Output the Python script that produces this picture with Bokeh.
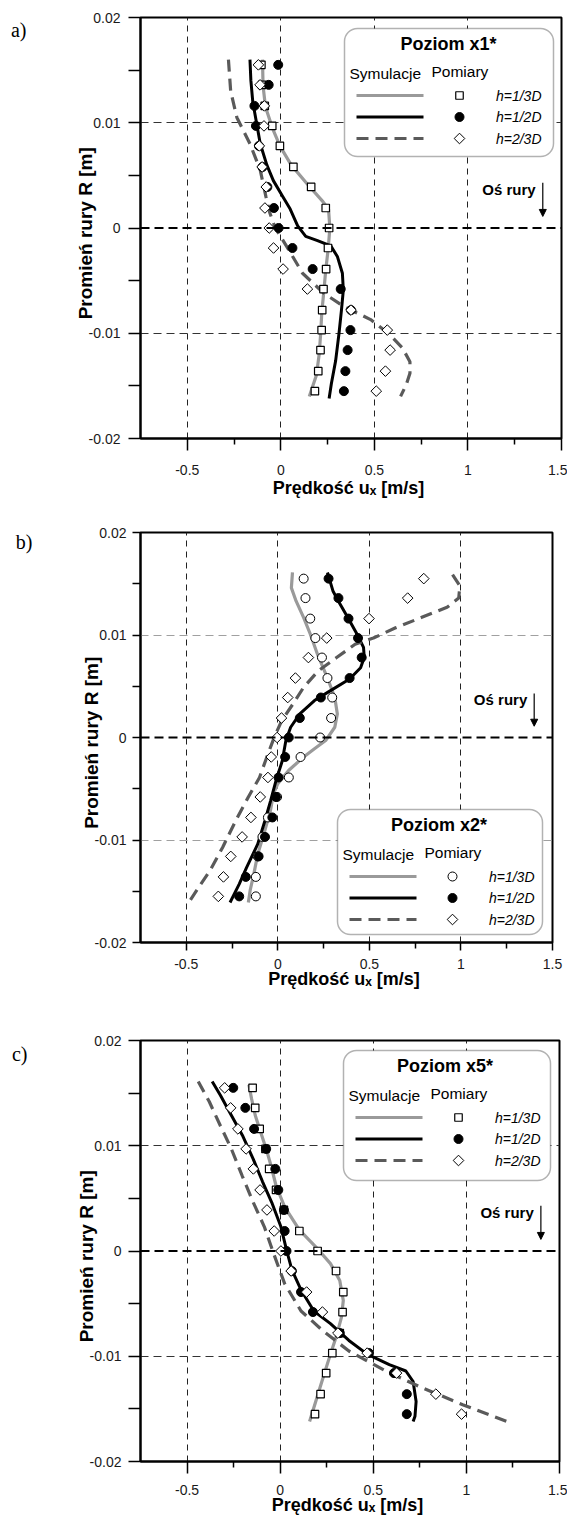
import math
from bokeh.plotting import figure
from bokeh.layouts import column
from bokeh.models import (Range1d, FixedTicker, CustomJSTickFormatter, Span, Label,
                          BoxAnnotation, Arrow, NormalHead, LinearAxis)
from bokeh.embed import file_html
from bokeh.resources import INLINE

# ---------------- data ----------------
x_limits = [-0.75, 1.5]
y_limits = [-0.02, 0.02]
x_ticks = [-0.5, 0, 0.5, 1, 1.5]
x_tick_labels = ["-0.5", "0", "0.5", "1", "1.5"]
x_minor_ticks = [-0.25, 0.25, 0.75, 1.25]
y_ticks = [-0.02, -0.01, 0, 0.01, 0.02]
y_tick_labels = ["-0.02", "-0.01", "0", "0.01", "0.02"]
y_minor_ticks = [-0.015, -0.005, 0.005, 0.015]

x_title = "Prędkość uₓ  [m/s]"
y_title = "Promień rury  R  [m]"
series_names = ["h=1/3D", "h=1/2D", "h=2/3D"]
panel_letters = ["a)", "b)", "c)"]
panel_titles = ["Poziom x1*", "Poziom  x2*", "Poziom  x5*"]

# radial positions of the measurement points [m]
R_meas = [0.0155, 0.0136, 0.0116, 0.0097, 0.0078, 0.0058, 0.0039, 0.0019, 0.0,
          -0.0019, -0.0039, -0.0058, -0.0078, -0.0097, -0.0116, -0.0136, -0.0155]

# ---- panel a (x1*) ----
a_meas_13 = [-0.104, -0.1, -0.086, -0.046, -0.005, 0.067, 0.162, 0.24, 0.258,
             0.252, 0.242, 0.228, 0.221, 0.218, 0.212, 0.2, 0.182]
a_meas_12 = [-0.014, -0.065, -0.141, -0.133, -0.117, -0.098, -0.072, -0.037, -0.012,
             0.062, 0.17, 0.32, 0.375, 0.372, 0.357, 0.345, 0.337]
a_meas_23 = [-0.12, -0.111, -0.088, -0.09, -0.115, -0.1, -0.078, -0.085, -0.062,
             -0.039, 0.012, 0.142, 0.375, 0.569, 0.584, 0.559, 0.51]
a_sim13_R = [0.016, 0.0135, 0.0115, 0.0095, 0.0078, 0.006, 0.0042, 0.0025, 0.0018, 0.0,
             -0.002, -0.004, -0.006, -0.008, -0.010, -0.012, -0.014, -0.016]
a_sim13_u = [-0.098, -0.095, -0.082, -0.045, -0.005, 0.055, 0.14, 0.225, 0.255, 0.262,
             0.253, 0.24, 0.23, 0.219, 0.213, 0.205, 0.19, 0.152]
a_sim12_R = [0.016, 0.014, 0.012, 0.010, 0.008, 0.006, 0.0045, 0.003, 0.0018, 0.0008, 0.0002,
             -0.0008, -0.0012, -0.0017, -0.0027, -0.0043, -0.0059, -0.0078, -0.010, -0.0126,
             -0.0148, -0.0162]
a_sim12_u = [-0.165, -0.16, -0.15, -0.13, -0.11, -0.075, -0.04, 0.01, 0.05, 0.075, 0.09,
             0.133, 0.196, 0.267, 0.302, 0.329, 0.334, 0.324, 0.311, 0.293, 0.27, 0.258]
a_sim23_R = [0.016, 0.013, 0.0105, 0.008, 0.0055, 0.003, 0.0015, 0.0, -0.002, -0.0043,
             -0.0062, -0.0075, -0.0087, -0.0101, -0.0114, -0.0127, -0.0138, -0.0149, -0.016]
a_sim23_u = [-0.28, -0.268, -0.235, -0.165, -0.11, -0.08, -0.06, -0.03, 0.04, 0.116,
             0.23, 0.34, 0.48, 0.58, 0.65, 0.69, 0.69, 0.67, 0.64]

# ---- panel b (x2*) ----
b_meas_13 = [0.141, 0.151, 0.177, 0.205, 0.241, 0.271, 0.297, 0.291, 0.231,
             0.124, 0.06, -0.004, -0.054, -0.084, -0.11, -0.12, -0.12]
b_meas_12 = [0.277, 0.331, 0.386, 0.438, 0.458, 0.392, 0.235, 0.12, 0.06,
             0.04, 0.004, -0.01, -0.03, -0.07, -0.105, -0.175, -0.211]
b_meas_23 = [0.797, 0.709, 0.498, 0.267, 0.167, 0.096, 0.054, 0.02, -0.004,
             -0.036, -0.054, -0.096, -0.147, -0.195, -0.257, -0.297, -0.325]
b_sim13_R = [0.0161, 0.0146, 0.0133, 0.0117, 0.0101, 0.0081, 0.0058, 0.0039, 0.0023, 0.001,
             -0.0003, -0.0011, -0.0019, -0.0032, -0.0045, -0.0055, -0.0071, -0.0094, -0.0114,
             -0.0133, -0.0149, -0.0161]
b_sim13_u = [0.08, 0.074, 0.1, 0.141, 0.177, 0.217, 0.271, 0.311, 0.325, 0.311,
             0.261, 0.2, 0.141, 0.06, 0.0, -0.024, -0.04, -0.076, -0.11, -0.131, -0.151, -0.161]
b_sim12_R = [0.0161, 0.0143, 0.0133, 0.0117, 0.0101, 0.0088, 0.0078, 0.0068, 0.0057, 0.0045,
             0.0036, 0.0023, 0.001, -0.0003, -0.0023, -0.0042, -0.0062, -0.0081, -0.0104,
             -0.0127, -0.0143, -0.0161]
b_sim12_u = [0.271, 0.301, 0.331, 0.382, 0.432, 0.468, 0.472, 0.452, 0.392, 0.281,
             0.2, 0.12, 0.07, 0.044, 0.024, -0.01, -0.04, -0.07, -0.11, -0.171, -0.211, -0.261]
b_sim23_R = [0.0159, 0.0148, 0.0136, 0.0127, 0.0117, 0.0107, 0.0097, 0.0091, 0.0078, 0.0065,
             0.0049, 0.0032, 0.0016, 0.0, -0.0019, -0.0039, -0.0058, -0.0078, -0.0107, -0.013,
             -0.0146, -0.0161]
b_sim23_u = [0.954, 0.994, 0.988, 0.924, 0.783, 0.643, 0.522, 0.422, 0.321, 0.221,
             0.141, 0.08, 0.02, -0.02, -0.06, -0.1, -0.161, -0.221, -0.301, -0.371, -0.432, -0.486]

# ---- panel c (x5*) ----
c_meas_13 = [-0.148, -0.134, -0.11, -0.079, -0.059, -0.022, 0.02, 0.103, 0.201,
             0.3, 0.339, 0.335, 0.32, 0.28, 0.247, 0.217, 0.187]
c_meas_12 = [-0.252, -0.187, -0.14, -0.075, -0.026, -0.01, 0.02, 0.024, 0.034,
             0.063, 0.112, 0.176, 0.32, 0.477, 0.611, 0.68, 0.68]
c_meas_23 = [-0.298, -0.266, -0.227, -0.183, -0.144, -0.108, -0.071, -0.032, 0.004,
             0.059, 0.142, 0.227, 0.31, 0.467, 0.625, 0.836, 0.974]
c_sim13_R = [0.0158, 0.0145, 0.0129, 0.0113, 0.0097, 0.0081, 0.0062, 0.0042, 0.002, 0.0004,
             -0.0012, -0.0028, -0.0047, -0.0063, -0.0082, -0.0098, -0.012, -0.0143, -0.0162]
c_sim13_u = [-0.168, -0.154, -0.134, -0.105, -0.075, -0.049, -0.022, 0.024, 0.103, 0.191,
             0.27, 0.32, 0.339, 0.329, 0.3, 0.27, 0.231, 0.191, 0.158]
c_sim12_R = [0.0161, 0.0148, 0.0132, 0.011, 0.0087, 0.0066, 0.0046, 0.0023, 0.0001, -0.0018,
             -0.0037, -0.0057, -0.0069, -0.0085, -0.0098, -0.0108, -0.0114, -0.0124, -0.0143,
             -0.0157, -0.0162]
c_sim12_u = [-0.365, -0.321, -0.272, -0.203, -0.144, -0.095, -0.045, 0.004, 0.034, 0.063,
             0.112, 0.181, 0.27, 0.369, 0.467, 0.586, 0.675, 0.714, 0.73, 0.724, 0.714]
c_sim23_R = [0.0161, 0.0142, 0.0119, 0.0097, 0.0071, 0.0046, 0.0023, -0.0002, -0.0031,
             -0.0057, -0.0076, -0.0095, -0.0114, -0.013, -0.0146, -0.0162]
c_sim23_u = [-0.44, -0.381, -0.321, -0.262, -0.203, -0.144, -0.085, -0.036, 0.024,
             0.112, 0.231, 0.369, 0.566, 0.763, 0.98, 1.217]

# ---------------- styling / layout ----------------
FONT = "Liberation Sans"
SERIF = "Liberation Serif"
GRAY = "#9a9a9a"
DASHC = "#5a5a5a"

panels = [
    dict(letter=panel_letters[0], title=panel_titles[0], open_marker="square",
         meas=(a_meas_13, a_meas_12, a_meas_23),
         sims=((a_sim13_u, a_sim13_R), (a_sim12_u, a_sim12_R), (a_sim23_u, a_sim23_R)),
         fw=421, fh=421, L=138, R=8, T=17, B=66,
         tick_out=12, x_standoff=14, y_standoff=8, xl_standoff=0, hgrid="#333333",
         box=(204, 11, 209, 128), letter_dy=12),
    dict(letter=panel_letters[1], title=panel_titles[1], open_marker="circle",
         meas=(b_meas_13, b_meas_12, b_meas_23),
         sims=((b_sim13_u, b_sim13_R), (b_sim12_u, b_sim12_R), (b_sim23_u, b_sim23_R)),
         fw=412, fh=410, L=140, R=15, T=28, B=60,
         tick_out=8, x_standoff=8, y_standoff=6, xl_standoff=-3, hgrid="#a0a0a0",
         box=(197, 277, 205, 125), letter_dy=9),
    dict(letter=panel_letters[2], title=panel_titles[2], open_marker="square",
         meas=(c_meas_13, c_meas_12, c_meas_23),
         sims=((c_sim13_u, c_sim13_R), (c_sim12_u, c_sim12_R), (c_sim23_u, c_sim23_R)),
         fw=419, fh=421, L=140, R=8, T=38, B=58,
         tick_out=12, x_standoff=11, y_standoff=7, xl_standoff=-3, hgrid="#333333",
         box=(203, 10, 207, 130), letter_dy=13),
]

line_styles = [
    dict(line_color=GRAY, line_width=3.2),
    dict(line_color="black", line_width=3.0),
    dict(line_color=DASHC, line_width=3.2, line_dash="12 7"),
]


def marker_styles(open_marker):
    first = (dict(marker="square", size=7.5, fill_color="white", line_color="black",
                  line_width=1.2)
             if open_marker == "square" else
             dict(marker="circle", size=9, fill_color="white", line_color="black",
                  line_width=1))
    return [
        first,
        dict(marker="circle", size=9, fill_color="black", line_color="black", line_width=1),
        dict(marker="square", angle=math.pi / 4, size=7.5, fill_color="white",
             line_color="black", line_width=1),
    ]


def fmt(tick_values, tick_texts):
    return CustomJSTickFormatter(args=dict(tv=tick_values, tl=tick_texts), code="""
        for (let i = 0; i < tv.length; i++) {
            if (Math.abs(tv[i] - tick) < 1e-9) { return tl[i]; }
        }
        return "";
    """)


def make_panel(cfg):
    X0, X1 = x_limits
    Y0, Y1 = y_limits
    fw, fh = cfg["fw"], cfg["fh"]
    p = figure(title=None, frame_width=fw, frame_height=fh,
               min_border_left=cfg["L"], min_border_right=cfg["R"],
               min_border_top=cfg["T"], min_border_bottom=cfg["B"],
               x_range=Range1d(X0, X1), y_range=Range1d(Y0, Y1),
               output_backend="svg", toolbar_location=None,
               background_fill_color="white", border_fill_color="white")
    p.outline_line_color = "black"
    p.outline_line_width = 2

    def d(dx, dy):
        return X0 + dx / fw * (X1 - X0), Y1 - dy / fh * (Y1 - Y0)

    # axes
    p.xaxis.ticker = FixedTicker(ticks=x_ticks, minor_ticks=x_minor_ticks)
    p.yaxis.ticker = FixedTicker(ticks=y_ticks, minor_ticks=y_minor_ticks)
    p.xaxis.formatter = fmt(x_ticks, x_tick_labels)
    p.yaxis.formatter = fmt(y_ticks, y_tick_labels)
    for ax in (p.xaxis[0], p.yaxis[0]):
        ax.axis_line_width = 2
        ax.axis_line_color = "black"
        ax.major_tick_line_color = "black"
        ax.minor_tick_line_color = "black"
        ax.major_tick_line_width = 1.5
        ax.minor_tick_line_width = 1.5
        ax.major_tick_in = 0
        ax.minor_tick_in = 0
        ax.major_tick_out = cfg["tick_out"]
        ax.major_label_text_font = FONT
        ax.major_label_text_font_size = "14px"
        ax.major_label_text_color = "#1a1a1a"
        ax.axis_label_text_font = FONT
        ax.axis_label_text_font_style = "bold"
        ax.axis_label_text_color = "black"
    p.xaxis[0].minor_tick_out = 6
    p.yaxis[0].minor_tick_out = cfg["tick_out"]
    p.xaxis[0].major_label_standoff = cfg["x_standoff"]
    p.yaxis[0].major_label_standoff = cfg["y_standoff"]
    p.xaxis[0].axis_label = x_title
    p.xaxis[0].axis_label_text_font_size = "18px"
    p.xaxis[0].axis_label_standoff = cfg["xl_standoff"]
    p.yaxis[0].axis_label = y_title
    p.yaxis[0].axis_label_text_font_size = "19px"
    p.yaxis[0].axis_label_standoff = -10

    # panel letter carried by an extra, bare axis on the left
    yl = Y1 - cfg["letter_dy"] / fh * (Y1 - Y0)
    lax = LinearAxis(ticker=FixedTicker(ticks=[yl]), formatter=fmt([yl], [cfg["letter"]]),
                     axis_line_color=None, major_tick_line_color=None,
                     minor_tick_line_color=None, major_tick_out=0, major_tick_in=0,
                     major_label_standoff=45, major_label_text_font=SERIF,
                     major_label_text_font_size="20px", major_label_text_color="black")
    p.add_layout(lax, "left")

    # grid
    p.xgrid.ticker = FixedTicker(ticks=[t for t in x_ticks if X0 < t < X1])
    p.xgrid.grid_line_color = "#222222"
    p.xgrid.grid_line_width = 1
    p.xgrid.grid_line_dash = "6 5"
    p.ygrid.ticker = FixedTicker(ticks=[t for t in y_ticks if Y0 < t < Y1 and t != 0])
    p.ygrid.grid_line_color = cfg["hgrid"]
    p.ygrid.grid_line_width = 1
    p.ygrid.grid_line_dash = "8 5"
    p.add_layout(Span(location=0, dimension="width", line_color="black",
                      line_width=2.2, line_dash="9 5"))

    mstyles = marker_styles(cfg["open_marker"])
    # simulations (lines) and measurements (markers)
    for (u, r), st in zip(cfg["sims"], line_styles):
        p.line(u, r, **st)
    for m, st in zip(cfg["meas"], mstyles):
        p.scatter(m, R_meas, **st)

    # pipe axis marker
    p.add_layout(Arrow(end=NormalHead(size=7, fill_color="black", line_color="black"),
                       x_start=1.4, y_start=0.0043, x_end=1.4, y_end=0.0011,
                       line_color="black", line_width=1.2))
    p.add_layout(Label(x=1.362, y=0.0037, text="Oś rury", text_align="right",
                       text_baseline="middle", text_font=FONT, text_font_size="15px",
                       text_font_style="bold", text_color="black"))

    # legend box
    bx, by, bw, bh = cfg["box"]
    l, t = d(bx, by)
    r_, b_ = d(bx + bw, by + bh)
    p.add_layout(BoxAnnotation(left=l, right=r_, top=t, bottom=b_, fill_color="white",
                               fill_alpha=1.0, line_color="black", line_width=1.5,
                               border_radius=13))
    tx, ty = d(bx + 104, by + 15)
    p.add_layout(Label(x=tx, y=ty, text=cfg["title"], text_align="center",
                       text_baseline="middle", text_font=FONT, text_font_size="18px",
                       text_font_style="bold", text_color="black"))
    sx, sy = d(bx + 5, by + 45)
    p.add_layout(Label(x=sx, y=sy, text="Symulacje", text_align="left",
                       text_baseline="middle", text_font=FONT, text_font_size="15.5px",
                       text_color="black"))
    px_, py_ = d(bx + 87, by + 43)
    p.add_layout(Label(x=px_, y=py_, text="Pomiary", text_align="left",
                       text_baseline="middle", text_font=FONT, text_font_size="15.5px",
                       text_color="black"))
    rows = [67, 88.5, 110]
    for name, row, lst, mst in zip(series_names, rows, line_styles, mstyles):
        x1, yy = d(bx + 12, by + row)
        x2, _ = d(bx + 79, by + row)
        p.line([x1, x2], [yy, yy], level="overlay", **lst)
        mx, _ = d(bx + 115, by + row)
        p.scatter([mx], [yy], level="overlay", **mst)
        lx, _ = d(bx + 197, by + row)
        p.add_layout(Label(x=lx, y=yy, text=name, text_align="right",
                           text_baseline="middle", text_font=FONT, text_font_size="14px",
                           text_font_style="italic", text_color="black"))
    return p


figs = [make_panel(c) for c in panels]
layout = column(*figs, spacing=0)
open("out.html", "w").write(file_html(layout, INLINE, "Profile prędkości"))
